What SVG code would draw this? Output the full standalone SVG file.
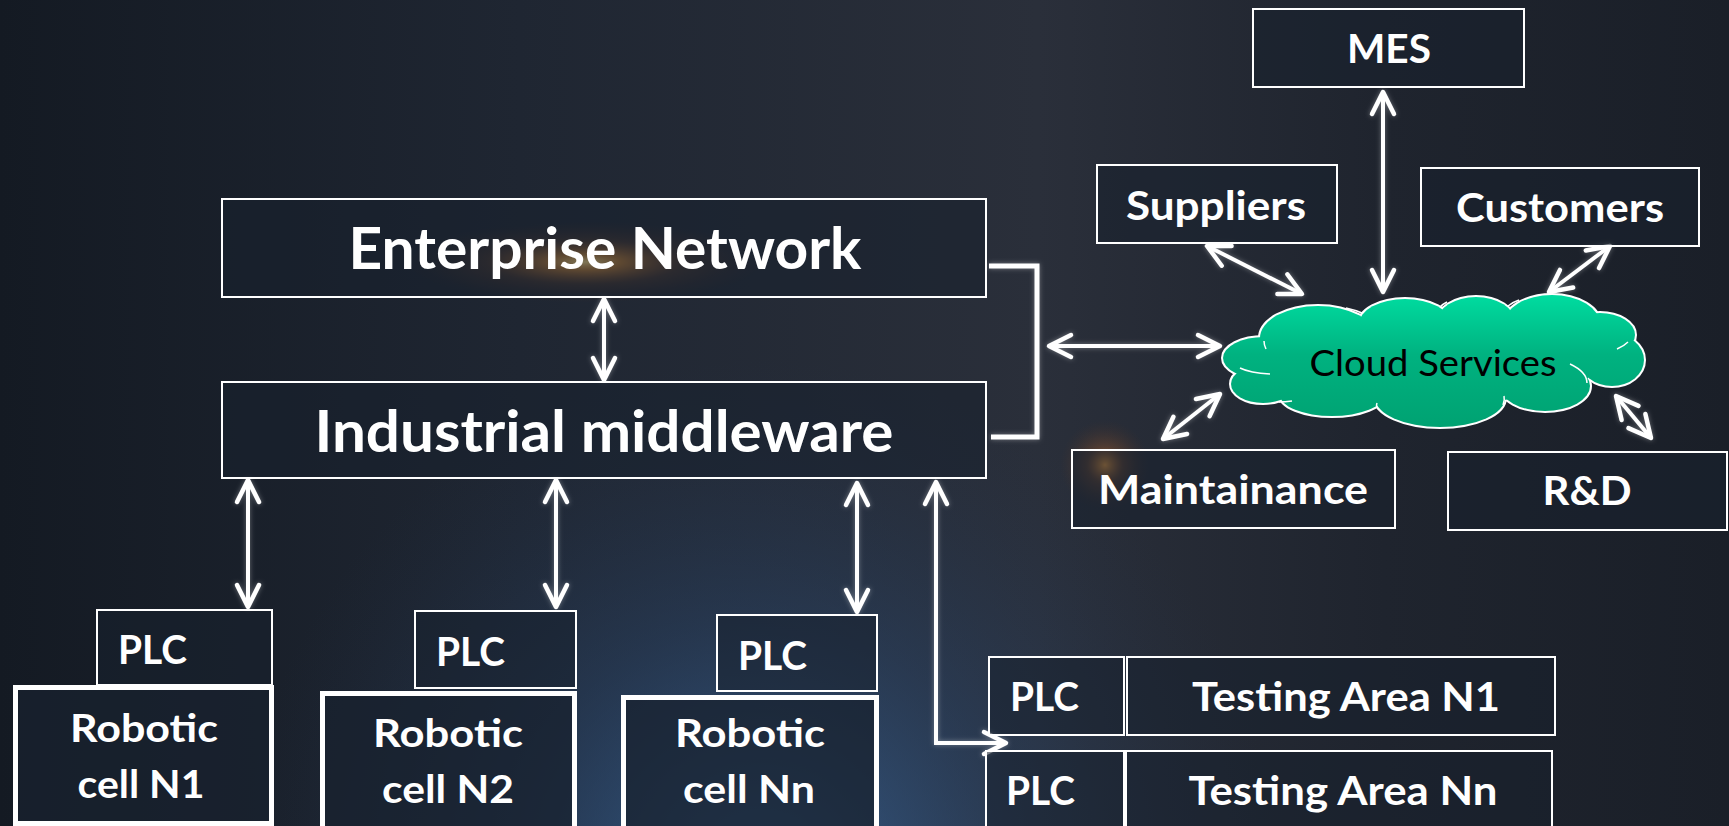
<svg xmlns="http://www.w3.org/2000/svg" width="1729" height="826" viewBox="0 0 1729 826">
<defs>
<linearGradient id="bg" x1="0" y1="0" x2="1" y2="0">
<stop offset="0" stop-color="#141a23"/>
<stop offset="0.3" stop-color="#1f2632"/>
<stop offset="0.6" stop-color="#2a2f3a"/>
<stop offset="0.8" stop-color="#1f242e"/>
<stop offset="1" stop-color="#1a1f28"/>
</linearGradient>
<radialGradient id="blueGlow" cx="760" cy="880" r="520" gradientUnits="userSpaceOnUse">
<stop offset="0" stop-color="#3f74b0" stop-opacity="0.75"/>
<stop offset="0.5" stop-color="#2c4f7c" stop-opacity="0.35"/>
<stop offset="1" stop-color="#23344e" stop-opacity="0"/>
</radialGradient>
<radialGradient id="flare" cx="585" cy="262" r="90" gradientUnits="userSpaceOnUse" gradientTransform="translate(585 262) scale(2 0.45) translate(-585 -262)">
<stop offset="0" stop-color="#ffe08a" stop-opacity="1"/>
<stop offset="0.2" stop-color="#f09a38" stop-opacity="0.7"/>
<stop offset="0.55" stop-color="#a05a28" stop-opacity="0.25"/>
<stop offset="1" stop-color="#603018" stop-opacity="0"/>
</radialGradient>
<radialGradient id="flare2" cx="1105" cy="465" r="45" gradientUnits="userSpaceOnUse">
<stop offset="0" stop-color="#f0a040" stop-opacity="0.85"/>
<stop offset="0.4" stop-color="#a05a28" stop-opacity="0.35"/>
<stop offset="1" stop-color="#503020" stop-opacity="0"/>
</radialGradient>
<linearGradient id="cloudFill" x1="0" y1="295" x2="0" y2="427" gradientUnits="userSpaceOnUse">
<stop offset="0" stop-color="#00dca0"/>
<stop offset="0.45" stop-color="#00b280"/>
<stop offset="1" stop-color="#00a272"/>
</linearGradient>
<filter id="glow" x="-20%" y="-20%" width="140%" height="140%">
<feGaussianBlur in="SourceAlpha" stdDeviation="2.5" result="b"/>
<feFlood flood-color="#ffffff" flood-opacity="0.35"/>
<feComposite in2="b" operator="in" result="g"/>
<feMerge><feMergeNode in="g"/><feMergeNode in="SourceGraphic"/></feMerge>
</filter>
<marker id="ah" markerUnits="userSpaceOnUse" markerWidth="34" markerHeight="34" viewBox="-30 -17 34 34" refX="0" refY="0" orient="auto-start-reverse">
<path d="M-22,-11 L0,0 L-22,11" fill="none" stroke="#ffffff" stroke-width="4.5" stroke-linecap="round" stroke-linejoin="round"/>
</marker>
<style>
.box{fill:#18212e;fill-opacity:0.55;stroke:#ffffff;stroke-width:2}
.cell{fill:#18222f;fill-opacity:0.75;stroke:#ffffff;stroke-width:5}
.t{font-family:Lato,"Open Sans","Liberation Sans",sans-serif;font-weight:700;fill:#ffffff}
.big{font-size:58px}
.mid{font-size:41px}
.sm{font-size:40px}
.rb{font-size:39px}
.cloudtxt{font-family:Lato,"Open Sans","Liberation Sans",sans-serif;font-weight:400;font-size:37px;fill:#000000}
.ar{fill:none;stroke:#ffffff;stroke-width:4;marker-start:url(#ah);marker-end:url(#ah)}
.br{fill:none;stroke:#ffffff;stroke-width:5}
</style>
</defs>

<rect x="0" y="0" width="1729" height="826" fill="url(#bg)"/>
<rect x="0" y="0" width="1729" height="826" fill="url(#blueGlow)"/>
<rect x="380" y="215" width="410" height="95" fill="url(#flare)"/>
<rect x="1050" y="415" width="110" height="100" fill="url(#flare2)"/>

<g id="connectors" filter="url(#glow)">
<line class="ar" x1="604" y1="299" x2="604" y2="380"/>
<polyline class="br" points="989,266 1037,266 1037,437 991,437"/>
<line class="ar" x1="1049" y1="346" x2="1220" y2="346"/>
<line class="ar" x1="1383" y1="92" x2="1383" y2="292"/>
<line class="ar" x1="1207" y1="246" x2="1302" y2="294"/>
<line class="ar" x1="1610" y1="246" x2="1549" y2="292"/>
<line class="ar" x1="1163" y1="439" x2="1220" y2="394"/>
<line class="ar" x1="1616" y1="396" x2="1651" y2="438"/>
<line class="ar" x1="248" y1="480" x2="248" y2="607"/>
<line class="ar" x1="556" y1="480" x2="556" y2="607"/>
<line class="ar" x1="857" y1="483" x2="857" y2="612"/>
<polyline class="ar" points="936,482 936,743 1006,743"/>
</g>

<g id="mes">
<rect class="box" x="1253" y="9" width="271" height="78"/>
<text class="t mid" x="1389" y="63" text-anchor="middle" textLength="84" lengthAdjust="spacingAndGlyphs">MES</text>
</g>
<g id="suppliers">
<rect class="box" x="1097" y="165" width="240" height="78"/>
<text class="t mid" x="1216" y="220" text-anchor="middle" textLength="180" lengthAdjust="spacingAndGlyphs">Suppliers</text>
</g>
<g id="customers">
<rect class="box" x="1421" y="168" width="278" height="78"/>
<text class="t mid" x="1560" y="222" text-anchor="middle" textLength="208" lengthAdjust="spacingAndGlyphs">Customers</text>
</g>
<g id="enterprise-network">
<rect class="box" x="222" y="199" width="764" height="98"/>
<text class="t big" x="605" y="269" text-anchor="middle" textLength="513" lengthAdjust="spacingAndGlyphs">Enterprise Network</text>
</g>
<g id="industrial-middleware">
<rect class="box" x="222" y="382" width="764" height="96"/>
<text class="t big" x="604" y="452" text-anchor="middle" textLength="579" lengthAdjust="spacingAndGlyphs">Industrial middleware</text>
</g>

<g id="cloud-services">
<g stroke="#ffffff" stroke-width="4" fill="#ffffff">
<ellipse cx="1264" cy="358" rx="41" ry="21"/>
<ellipse cx="1318" cy="338" rx="58" ry="32"/>
<ellipse cx="1405" cy="324" rx="46" ry="25"/>
<ellipse cx="1476" cy="322" rx="39" ry="25"/>
<ellipse cx="1552" cy="324" rx="48" ry="29"/>
<ellipse cx="1600" cy="335" rx="35" ry="22"/>
<ellipse cx="1612" cy="360" rx="32" ry="26"/>
<ellipse cx="1545" cy="386" rx="45" ry="25"/>
<ellipse cx="1440" cy="398" rx="65" ry="29"/>
<ellipse cx="1332" cy="395" rx="52" ry="21"/>
<ellipse cx="1263" cy="384" rx="32" ry="19"/>
</g>
<g fill="url(#cloudFill)">
<ellipse cx="1264" cy="358" rx="41" ry="21"/>
<ellipse cx="1318" cy="338" rx="58" ry="32"/>
<ellipse cx="1405" cy="324" rx="46" ry="25"/>
<ellipse cx="1476" cy="322" rx="39" ry="25"/>
<ellipse cx="1552" cy="324" rx="48" ry="29"/>
<ellipse cx="1600" cy="335" rx="35" ry="22"/>
<ellipse cx="1612" cy="360" rx="32" ry="26"/>
<ellipse cx="1545" cy="386" rx="45" ry="25"/>
<ellipse cx="1440" cy="398" rx="65" ry="29"/>
<ellipse cx="1332" cy="395" rx="52" ry="21"/>
<ellipse cx="1263" cy="384" rx="32" ry="19"/>
<ellipse cx="1433" cy="360" rx="170" ry="44"/>
</g>
<g fill="none" stroke="#ffffff" stroke-width="1.5">
<path d="M1270,374 Q1250,373 1240,368"/>
<path d="M1264,341 Q1264,345 1266,349"/>
<path d="M1362,313 Q1355,310 1346,308"/>
<path d="M1440,307 Q1443,304 1447,302"/>
<path d="M1508,306 Q1513,302 1519,300"/>
<path d="M1617,349 Q1624,346 1628,342"/>
<path d="M1587,383 Q1587,372 1570,364"/>
<path d="M1503,405 Q1505,400 1504,396"/>
<path d="M1380,410 Q1375,408 1377,403"/>
<path d="M1292,401 Q1285,402 1279,402"/>
</g>
<text class="cloudtxt" x="1433" y="376" text-anchor="middle" textLength="247" lengthAdjust="spacingAndGlyphs">Cloud Services</text>
</g>

<g id="maintainance">
<rect class="box" x="1072" y="450" width="323" height="78"/>
<text class="t mid" x="1233" y="504" text-anchor="middle" textLength="270" lengthAdjust="spacingAndGlyphs">Maintainance</text>
</g>
<g id="rnd">
<rect class="box" x="1448" y="452" width="279" height="78"/>
<text class="t mid" x="1587" y="505" text-anchor="middle" textLength="89" lengthAdjust="spacingAndGlyphs">R&amp;D</text>
</g>

<g id="plc-1">
<rect class="box" x="97" y="610" width="175" height="75"/>
<text class="t sm" x="118" y="664" textLength="69" lengthAdjust="spacingAndGlyphs">PLC</text>
</g>
<g id="robotic-cell-n1">
<rect class="cell" x="15.5" y="687.5" width="256" height="136"/>
<text class="t rb" x="144" y="742" text-anchor="middle" textLength="148" lengthAdjust="spacingAndGlyphs">Robotic</text>
<text class="t rb" x="141" y="798" text-anchor="middle" textLength="127" lengthAdjust="spacingAndGlyphs">cell N1</text>
</g>
<g id="plc-2">
<rect class="box" x="415" y="611" width="161" height="77"/>
<text class="t sm" x="436" y="666" textLength="69" lengthAdjust="spacingAndGlyphs">PLC</text>
</g>
<g id="robotic-cell-n2">
<rect class="cell" x="322.5" y="693.5" width="252" height="140"/>
<text class="t rb" x="448" y="747" text-anchor="middle" textLength="150" lengthAdjust="spacingAndGlyphs">Robotic</text>
<text class="t rb" x="448" y="803" text-anchor="middle" textLength="132" lengthAdjust="spacingAndGlyphs">cell N2</text>
</g>
<g id="plc-3">
<rect class="box" x="717" y="615" width="160" height="76"/>
<text class="t sm" x="738" y="670" textLength="69" lengthAdjust="spacingAndGlyphs">PLC</text>
</g>
<g id="robotic-cell-nn">
<rect class="cell" x="623.5" y="697.5" width="253" height="140"/>
<text class="t rb" x="750" y="747" text-anchor="middle" textLength="150" lengthAdjust="spacingAndGlyphs">Robotic</text>
<text class="t rb" x="749" y="803" text-anchor="middle" textLength="132" lengthAdjust="spacingAndGlyphs">cell Nn</text>
</g>

<g id="testing-area-n1">
<rect class="box" x="989" y="657" width="135" height="78"/>
<rect class="box" x="1127" y="657" width="428" height="78"/>
<text class="t sm" x="1010" y="711" textLength="69" lengthAdjust="spacingAndGlyphs">PLC</text>
<text class="t sm" x="1346" y="711" text-anchor="middle" textLength="308" lengthAdjust="spacingAndGlyphs">Testing Area N1</text>
</g>
<g id="testing-area-nn">
<rect class="box" x="986" y="751" width="138" height="80"/>
<rect class="box" x="1126" y="751" width="426" height="80"/>
<text class="t sm" x="1006" y="805" textLength="69" lengthAdjust="spacingAndGlyphs">PLC</text>
<text class="t sm" x="1343" y="805" text-anchor="middle" textLength="309" lengthAdjust="spacingAndGlyphs">Testing Area Nn</text>
</g>
</svg>
